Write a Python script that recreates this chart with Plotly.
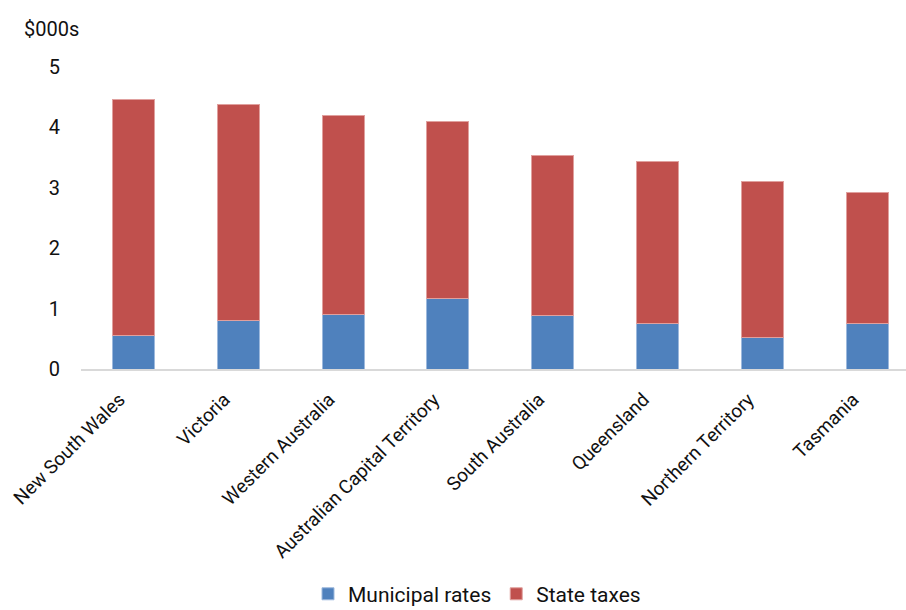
import plotly.graph_objects as go

states = ["New South Wales", "Victoria", "Western Australia", "Australian Capital Territory",
          "South Australia", "Queensland", "Northern Territory", "Tasmania"]
totals = [4.47, 4.38, 4.19, 4.09, 3.54, 3.43, 3.11, 2.93]
municipal = [0.56, 0.80, 0.90, 1.17, 0.89, 0.75, 0.52, 0.75]
state_taxes = [round(t - m, 2) for t, m in zip(totals, municipal)]
y_ticks = [0, 1, 2, 3, 4, 5]

FONT = "Roboto"
fig = go.Figure()
fig.add_trace(go.Bar(x=states, y=municipal, name="Municipal rates",
                     marker=dict(color="#4F81BD", line=dict(color="#9DB9DD", width=1))))
fig.add_trace(go.Bar(x=states, y=state_taxes, name="State taxes",
                     marker=dict(color="#C0504D", line=dict(color="#E0A09E", width=1))))

fig.update_layout(
    barmode="stack",
    bargap=0.6,
    width=906, height=610,
    margin=dict(l=81, r=0, t=67, b=241),
    paper_bgcolor="white", plot_bgcolor="white",
    font=dict(family=FONT, size=19, color="#111111"),
    showlegend=True,
    legend=dict(orientation="h", x=0.48, xanchor="center", yref="container", y=0.026,
                yanchor="middle", font=dict(size=21), itemwidth=30, traceorder="normal"),
    annotations=[dict(text="$000s", xref="paper", yref="paper", x=0, y=1.125,
                      xanchor="right", yanchor="middle", showarrow=False,
                      font=dict(size=20, family=FONT))],
)
fig.update_xaxes(range=[-0.5, 7.37], showgrid=False, showline=True, linecolor="#D9D9D9",
                 linewidth=2, tickangle=-45, ticks="outside", ticklen=10, tickcolor="white",
                 ticklabelshift=-14, tickfont=dict(size=19))
fig.update_yaxes(range=[0, 5], tickvals=y_ticks, showgrid=False, zeroline=False,
                 showline=False, ticklabelstandoff=20, tickfont=dict(size=20))

fig.write_html("out.html")
